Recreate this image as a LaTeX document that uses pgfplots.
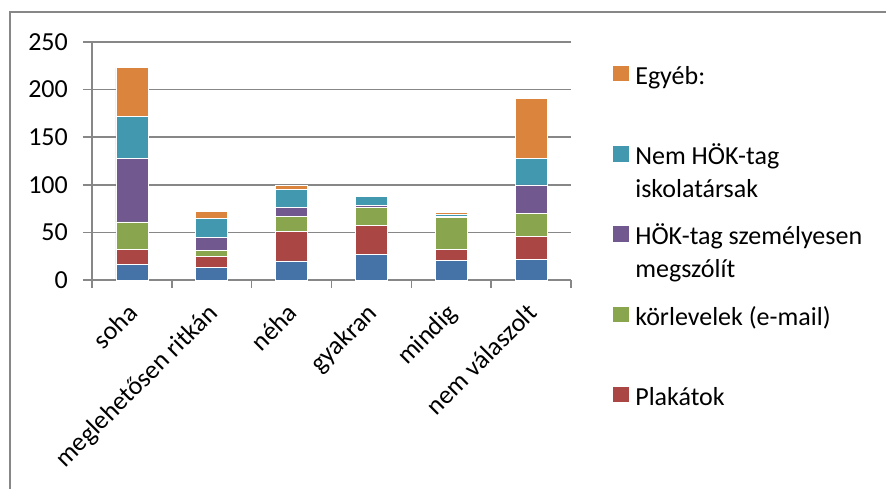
\documentclass[border=0pt]{standalone}
\usepackage{pgfplots}
\pgfplotsset{compat=1.18}
\usepackage{fontspec}
\setmainfont{Carlito}

\definecolor{cblue}{HTML}{4572A7}
\definecolor{cred}{HTML}{AA4643}
\definecolor{cgreen}{HTML}{89A54E}
\definecolor{cpurple}{HTML}{71588F}
\definecolor{cteal}{HTML}{4198AF}
\definecolor{corange}{HTML}{DB843D}
\definecolor{axgray}{HTML}{878787}

\pgfplotsset{
  sq/.style={fill=#1, draw=white, line width=0.6pt,
    legend image code/.code={\fill[#1] (0pt,9.5pt) rectangle (14.5pt,24pt);}},
}

\begin{document}
\begin{tikzpicture}[x=1pt,y=1pt]
\useasboundingbox (0,0) rectangle (886,488);
\clip (0,0) rectangle (886,488);
% chart area frame (cut off at right and bottom)
\draw[axgray, line width=1.5pt] (10,-20) -- (10,476) -- (900,476);

\begin{axis}[
    at={(92pt,208pt)}, anchor=south west,
    scale only axis,
    width=479pt, height=238pt,
    ybar stacked,
    bar width=0.4,
    xmin=-0.5, xmax=5.5,
    ymin=0, ymax=250,
    axis lines*=left,
    axis line style={axgray, line width=1.5pt},
    ytick={0,50,...,250},
    ymajorgrids=true,
    grid style={axgray, line width=1.5pt},
    xtick={0,1,2,3,4,5},
    xticklabels={soha, meglehetősen ritkán, néha, gyakran, mindig, nem válaszolt},
    minor xtick={-0.5,0.5,...,5.5},
    tick align=outside,
    major tick length=9pt,
    minor tick length=8pt,
    tick style={axgray, line width=1.5pt},
    major x tick style={draw=none},
    tick label style={font=\fontsize{26}{30}\selectfont, black},
    /pgf/number format/assume math mode=true,
    yticklabel style={inner xsep=0pt, xshift=-15pt},
    xticklabel style={rotate=45, anchor=north east, inner sep=0pt, xshift=-13pt, yshift=-5pt},
    reverse legend,
    legend style={
      at={(1.0877,0.92)}, anchor=north west,
      draw=none, fill=none, inner sep=0pt,
      row sep=22.7pt, column sep=7pt,
      font=\fontsize{26}{33}\selectfont,
      nodes={inner sep=0pt, align=left, anchor=west},
    },
]
\addplot[sq=cblue, forget plot] coordinates {(0,16) (1,13) (2,20) (3,27) (4,21) (5,22)};
\addplot[sq=cred] coordinates {(0,16) (1,12) (2,31) (3,30) (4,11) (5,24)};
\addplot[sq=cgreen] coordinates {(0,29) (1,6) (2,16) (3,19) (4,34) (5,24)};
\addplot[sq=cpurple] coordinates {(0,67) (1,14) (2,9) (3,2) (4,1) (5,30)};
\addplot[sq=cteal] coordinates {(0,44) (1,20) (2,19) (3,10) (4,2) (5,28)};
\addplot[sq=corange] coordinates {(0,51) (1,7) (2,4) (3,0) (4,2) (5,63)};
\legend{{\strut Plakátok\\\strut}, {\strut körlevelek (e-mail)\\\strut},
  {\strut HÖK-tag személyesen\\\strut megszólít},
  {\strut Nem HÖK-tag\\\strut iskolatársak}, {\strut Egyéb:\\\strut}}
\end{axis}
\end{tikzpicture}
\end{document}
